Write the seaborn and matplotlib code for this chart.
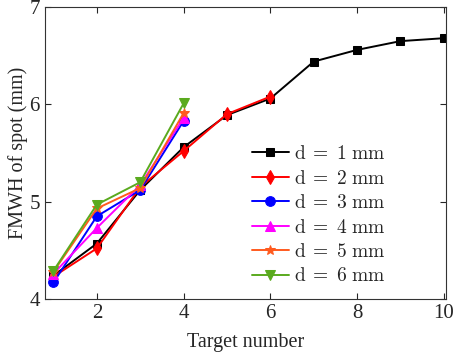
import pandas as pd
import matplotlib.pyplot as plt
import seaborn as sns

# target number on x, FMWH of spot (mm) on y, one list per aperture d
x_d1 = [1, 2, 3, 4, 5, 6, 7, 8, 9, 10]
y_d1 = [4.24, 4.57, 5.12, 5.56, 5.89, 6.06, 6.44, 6.56, 6.65, 6.68]
x_d2 = [1, 2, 3, 4, 5, 6]
y_d2 = [4.23, 4.52, 5.15, 5.52, 5.90, 6.08]
x_short = [1, 2, 3, 4]
y_d3 = [4.17, 4.85, 5.12, 5.83]
y_d4 = [4.26, 4.73, 5.17, 5.86]
y_d5 = [4.28, 4.93, 5.14, 5.91]
y_d6 = [4.29, 4.97, 5.20, 6.01]

d_values = [1, 2, 3, 4, 5, 6]
colors = ['black', '#ff0000', '#0000ff', '#ff00ff', '#ff5a1e', '#5aaa1e']
markers = ['s', 'd', 'o', '^', '*', 'v']
sizes = [6, 7, 7, 7, 7, 7]

series = [(x_d1, y_d1), (x_d2, y_d2), (x_short, y_d3),
          (x_short, y_d4), (x_short, y_d5), (x_short, y_d6)]

sns.set_style('ticks')
plt.rcParams['font.family'] = ['Liberation Serif', 'DejaVu Serif']
plt.rcParams['mathtext.fontset'] = 'cm'

fig = plt.figure(figsize=(4.57, 3.53), dpi=100)
ax = fig.add_axes([0.098, 0.153, 0.878, 0.827])

for (xs, ys), d, c, m, s in zip(series, d_values, colors, markers, sizes):
    df = pd.DataFrame({'target': xs, 'fmwh': ys})
    name = r'$\mathrm{d\;=\;%d\ mm}$' % d
    sns.lineplot(data=df, x='target', y='fmwh', ax=ax, color=c, marker=m,
                 markersize=s, markeredgecolor=c, linewidth=1.4, label=name)

ax.set_xlim(0.8, 10.05)
ax.set_ylim(4, 7)
ax.set_xticks([2, 4, 6, 8, 10])
ax.set_yticks([4, 5, 6, 7])
ax.tick_params(direction='in', top=True, right=True, labelsize=15, length=4)
for sp in ax.spines.values():
    sp.set_linewidth(0.8)
    sp.set_color('#333333')
ax.set_xlabel('Target number', fontsize=14.5, labelpad=7)
ax.set_ylabel('FMWH of spot (mm)', fontsize=14.5, labelpad=1)

ax.legend(loc='lower right', bbox_to_anchor=(0.87, 0.02), borderaxespad=0,
          frameon=False, fontsize=14, handlelength=1.9, handletextpad=0.3,
          labelspacing=0.33)

fig.savefig('out.png', dpi=100)
